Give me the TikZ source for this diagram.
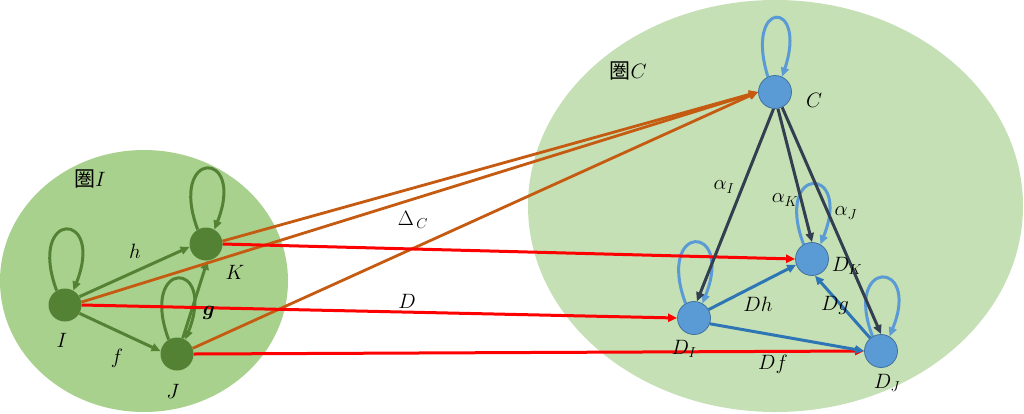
\documentclass[tikz,border=0pt]{standalone}
\usepackage{fontspec}
\usepackage{bm}
\usetikzlibrary{arrows.meta}
\newfontfamily\cjk{Noto Sans CJK JP}
\definecolor{leftfill}{HTML}{A9D18E}
\definecolor{rightfill}{HTML}{C5E0B4}
\definecolor{gnode}{HTML}{548235}
\definecolor{bnode}{HTML}{5B9BD5}
\definecolor{bborder}{HTML}{41719C}
\definecolor{barrow}{HTML}{2E75B6}
\definecolor{darkarrow}{HTML}{333F50}
\definecolor{orangearrow}{HTML}{C55A11}
\definecolor{redarrow}{HTML}{FF0000}
\pgfdeclarelayer{bg}
\pgfdeclarelayer{mid}
\pgfsetlayers{bg,mid,main}
\begin{document}
\begin{tikzpicture}[x=1pt,y=-1pt,
  tip/.style={-{Triangle[length=9pt,width=8pt]}},
  gnodest/.style={circle,fill=gnode,inner sep=0pt,minimum size=33pt},
  bnodest/.style={circle,fill=bnode,draw=bborder,line width=0.8pt,inner sep=0pt,minimum size=33pt},
  gloop/.style={draw=gnode,line width=3pt,tip},
  bloop/.style={draw=bnode,line width=3pt,tip},
  garrow/.style={draw=gnode,line width=3pt,tip},
  barrowst/.style={draw=barrow,line width=3pt,tip},
  darrow/.style={draw=darkarrow,line width=3pt,tip},
  oarrow/.style={draw=orangearrow,line width=2.8pt,tip},
  rarrow/.style={draw=redarrow,line width=3pt,tip},
  lbl/.style={font=\fontsize{21}{24}\selectfont,inner sep=0pt}]
\useasboundingbox (0,0) rectangle (1024,413);
\begin{pgfonlayer}{bg}
\fill[white] (0,0) rectangle (1024,413);
\fill[leftfill] (144,281) ellipse [x radius=144, y radius=131];
\fill[rightfill] (775.5,206) ellipse [x radius=247.5, y radius=206];
\end{pgfonlayer}
% nodes
\node[gnodest] (I) at (65,305) {};
\node[gnodest] (K) at (206,244) {};
\node[gnodest] (J) at (177,354) {};
\node[bnodest] (C) at (775,92) {};
\node[bnodest] (DK) at (812,259) {};
\node[bnodest] (DI) at (694,318) {};
\node[bnodest] (DJ) at (881,351) {};
\begin{pgfonlayer}{mid}
% loops
\draw[gloop] (I.120) .. controls +(-30,-81) and +(32,-81) .. (I.60);
\draw[gloop] (K.120) .. controls +(-30,-81) and +(32,-81) .. (K.60);
\draw[gloop] (J.120) .. controls +(-30,-81) and +(32,-81) .. (J.60);
\draw[bloop] (C.115) .. controls +(-24,-78) and +(26,-78) .. (C.65);
\draw[bloop] (DK.120) .. controls +(-30,-80) and +(32,-80) .. (DK.60);
\draw[bloop] (DI.120) .. controls +(-30,-81) and +(32,-81) .. (DI.60);
\draw[bloop] (DJ.120) .. controls +(-30,-78) and +(32,-78) .. (DJ.60);
% green arrows
\draw[garrow] (I.30) -- (K.190);
\draw[garrow] (I.-30) -- (J.170);
\draw[garrow] (J.70) -- (K.-85);
% orange arrows
\draw[oarrow] (K.10) -- (C.west);
\draw[oarrow] (I.10) -- (C.west);
\draw[oarrow] (J.20) -- (C.west);
% red arrows
\draw[rarrow] (K.east) -- (DK.west);
\draw[rarrow] (I.east) -- (DI.west);
\draw[rarrow] (J.east) -- (DJ.west);
% dark arrows
\draw[darrow] (C.265) -- (DI.80);
\draw[darrow] (C.280) -- (DK.north);
\draw[darrow] (C.295) -- (DJ.north);
% blue arrows
\draw[barrowst] (DI.30) -- (DK.200);
\draw[barrowst] (DI.-20) -- (DJ.west);
\draw[barrowst] (DJ.130) -- (DK.-80);
\end{pgfonlayer}
% labels
\node[lbl] (lcatI) at (90,179) {{\cjk 圏}$I$};
\node[lbl] (lcatC) at (628,71) {{\cjk 圏}$C$};
\node[lbl] (lh) at (135,251) {$h$};
\node[lbl] (lf) at (117,358) {$f$};
\node[lbl] (lg) at (209,313) {$\bm{g}$};
\node[lbl] (lI) at (62,340) {$I$};
\node[lbl] (lJ) at (173,391) {$J$};
\node[lbl] (lK) at (235,272) {$K$};
\node[lbl] (lDelta) at (413,220) {$\Delta_{\,C}$};
\node[lbl] (lD) at (407,301) {$D$};
\node[lbl] (lC) at (814,100) {$C$};
\node[lbl] (laI) at (724,187) {$\alpha_I$};
\node[lbl] (laK) at (785,200) {$\alpha_K$};
\node[lbl] (laJ) at (846,213) {$\alpha_J$};
\node[lbl] (lDK) at (847,266) {$D_K$};
\node[lbl] (lDh) at (758,304) {$Dh$};
\node[lbl] (lDg) at (835,305) {$Dg$};
\node[lbl] (lDI) at (684,349) {$D_I$};
\node[lbl] (lDf) at (773,364) {$Df$};
\node[lbl] (lDJ) at (887,383) {$D_J$};
\end{tikzpicture}
\end{document}
